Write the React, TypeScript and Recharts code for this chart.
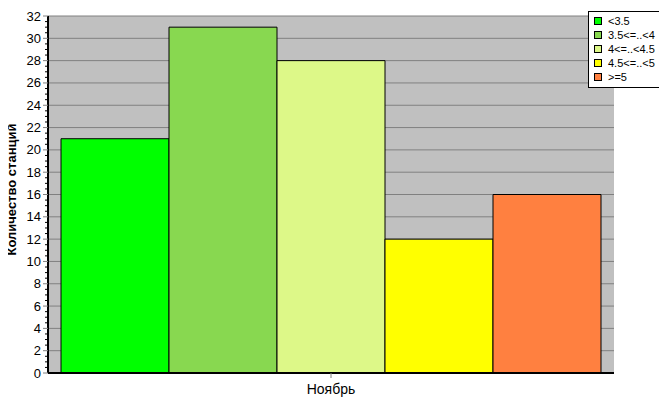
import { Bar, BarChart, CartesianGrid, XAxis, YAxis } from "recharts";

const months = ["Ноябрь"];
const seriesNames = ["<3.5", "3.5<=..<4", "4<=..<4.5", "4.5<=..<5", ">=5"];
const seriesValues = [21, 31, 28, 12, 16];
const seriesColors = ["#00FF00", "#88D850", "#DDF888", "#FFFF00", "#FF8040"];
const yTicks = [0, 2, 4, 6, 8, 10, 12, 14, 16, 18, 20, 22, 24, 26, 28, 30, 32];
const minorTicks = Array.from({ length: 65 }, (_, i) => i * 0.5);

const data = months.map((m) => {
  const row: Record<string, string | number> = { name: m };
  seriesNames.forEach((s, i) => (row["s" + i] = seriesValues[i]));
  return row;
});

const font = "'Liberation Sans', Arial, sans-serif";

function YTick(props: any) {
  const { x, y, payload } = props;
  const major = payload.value % 2 === 0;
  if (!major) {
    return <line x1={x - 3} x2={x - 1} y1={y} y2={y} stroke="#000" />;
  }
  return (
    <g>
      <line x1={x - 5} x2={x} y1={y} y2={y} stroke="#808080" />
      <text x={x - 7} y={y} dy={4.5} textAnchor="end" fontSize={13} fontFamily={font} fill="#000">
        {payload.value}
      </text>
    </g>
  );
}

function LegendBox() {
  return (
    <div
      style={{
        position: "absolute",
        left: 588,
        top: 11,
        width: 74,
        border: "1px solid #000",
        background: "#fff",
        padding: "2px 0 3px 0",
        fontFamily: font,
        fontSize: 11,
        color: "#000",
      }}
    >
      {seriesNames.map((s, i) => (
        <div key={s} style={{ display: "flex", alignItems: "center", height: 14 }}>
          <span
            style={{
              display: "inline-block",
              width: 6,
              height: 6,
              border: "1px solid #000",
              background: seriesColors[i],
              marginLeft: 5,
              marginRight: 6,
            }}
          />
          <span>{s}</span>
        </div>
      ))}
    </div>
  );
}

export default function App() {
  return (
    <div style={{ margin: -8, width: 667, height: 415, background: "#fff", position: "relative" }}>
      <BarChart
        width={667}
        height={415}
        data={data}
        margin={{ top: 16, right: 53, bottom: 12, left: 0 }}
        barCategoryGap={13}
        barGap={0}
      >
        <CartesianGrid vertical={false} horizontalValues={yTicks} stroke="#808080" fill="#C0C0C0" />
        <XAxis
          dataKey="name"
          height={30}
          axisLine={{ stroke: "#000", strokeWidth: 2 }}
          tickLine={{ stroke: "#808080" }}
          tickSize={5}
          tickMargin={6}
          tick={{ fill: "#000", fontSize: 14, fontFamily: font }}
        />
        <YAxis
          width={48}
          domain={[0, 32]}
          ticks={minorTicks}
          interval={0}
          axisLine={{ stroke: "#000", strokeWidth: 2 }}
          tickLine={false}
          tickSize={0}
          tickMargin={0}
          tick={<YTick />}
          label={{
            value: "Количество станций",
            angle: -90,
            position: "insideLeft",
            dx: 6,
            dy: -5,
            style: { textAnchor: "middle", fontWeight: "bold", fontSize: 13, fontFamily: font, fill: "#000" },
          }}
        />
        {seriesNames.map((s, i) => (
          <Bar
            key={s}
            dataKey={"s" + i}
            name={s}
            fill={seriesColors[i]}
            stroke="#000"
            strokeWidth={1}
            isAnimationActive={false}
          />
        ))}
      </BarChart>
      <LegendBox />
    </div>
  );
}
